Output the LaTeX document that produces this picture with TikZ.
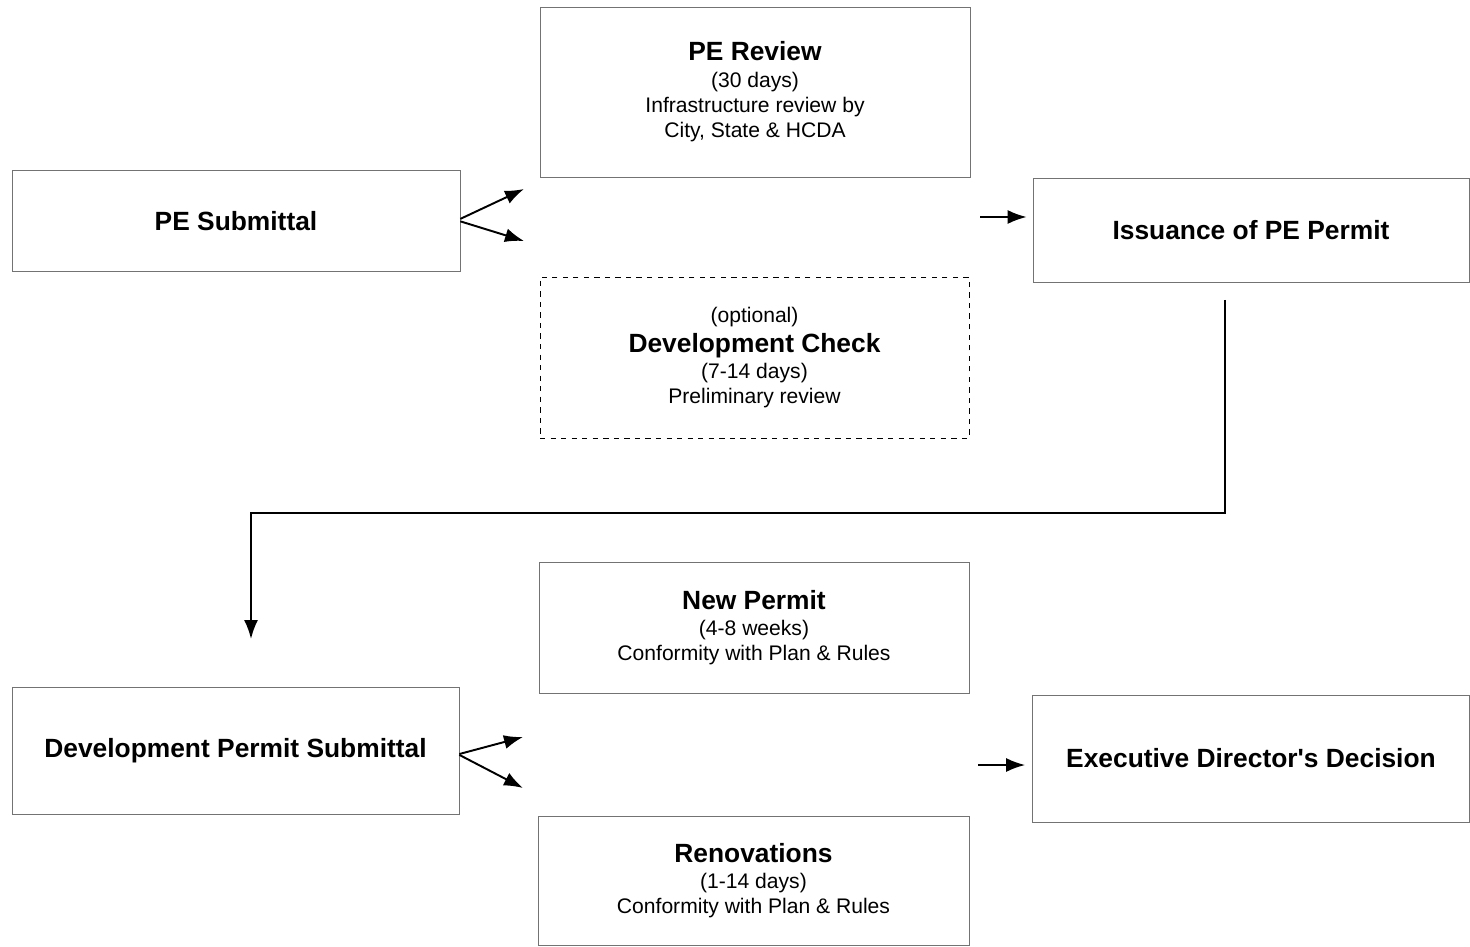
\documentclass[tikz,border=0pt]{standalone}
\usepackage{fontspec}
\setmainfont{Liberation Sans}
\usetikzlibrary{arrows.meta}

\tikzset{
  box/.style={draw=black!55, thin, align=center, inner sep=0pt,
    font=\fontsize{12}{14.4}\selectfont},
  optbox/.style={box, draw=black, dashed},
  headbox/.style={box, font=\bfseries\fontsize{15}{18}\selectfont},
}
\newcommand{\boxhead}[1]{{\bfseries\fontsize{15}{17}\selectfont #1}\\[0.5pt]}

\begin{document}
\begin{tikzpicture}[x=0.2mm, y=-0.2mm, >={Latex[length=3.8mm, width=2.8mm]}]

  \useasboundingbox (0,0) rectangle (1470,947);

  % top row
  \node[headbox, minimum width=448*0.2mm, minimum height=101*0.2mm] (pesub) at (236,221)
    {PE Submittal};
  \node[box, minimum width=430*0.2mm, minimum height=170*0.2mm] (perev) at (755,92)
    {\boxhead{PE Review}(30 days)\\Infrastructure review by\\City, State \& HCDA};
  \node[optbox, minimum width=429*0.2mm, minimum height=161*0.2mm] (devchk) at (754.5,357.5)
    {(optional)\\[2.5pt]\boxhead{Development Check}(7-14 days)\\Preliminary review};
  \node[headbox, minimum width=436*0.2mm, minimum height=104*0.2mm] (issue) at (1251,230)
    {Issuance of PE Permit};

  % bottom row
  \node[headbox, minimum width=447*0.2mm, minimum height=127*0.2mm] (dpsub) at (235.5,750.5)
    {Development Permit Submittal};
  \node[box, minimum width=430*0.2mm, minimum height=131*0.2mm] (newp) at (754,627.5)
    {\boxhead{New Permit}(4-8 weeks)\\Conformity with Plan \& Rules};
  \node[box, minimum width=431*0.2mm, minimum height=129*0.2mm] (renov) at (753.5,880.5)
    {\boxhead{Renovations}(1-14 days)\\Conformity with Plan \& Rules};
  \node[headbox, minimum width=437*0.2mm, minimum height=127*0.2mm] (exec) at (1251,758.5)
    {Executive Director\textquotesingle s Decision};

  % free arrow ends
  \coordinate (up1) at (524,189);
  \coordinate (dn1) at (524,241);
  \coordinate (go1) at (980,217);
  \coordinate (drop) at (1225,300);
  \coordinate (bend) at (251,513);
  \coordinate (land) at (251,639);
  \coordinate (up2) at (523,737);
  \coordinate (dn2) at (523,788);
  \coordinate (go2) at (978,765);

  \begin{scope}[line width=1.1pt]
    \draw[->] ([yshift=1.2pt]pesub.east) -- (up1);
    \draw[->] ([yshift=-0.2pt]pesub.east) -- (dn1);
    \draw[->, shorten >=1.2mm] (go1) -- (go1 -| issue.west);
    \draw[->] (drop) |- (bend) -- (land);
    \draw[->] ([yshift=-2pt]dpsub.east) -- (up2);
    \draw[->] ([yshift=-2.5pt]dpsub.east) -- (dn2);
    \draw[->, shorten >=1.4mm] (go2) -- (go2 -| exec.west);
  \end{scope}

\end{tikzpicture}
\end{document}
